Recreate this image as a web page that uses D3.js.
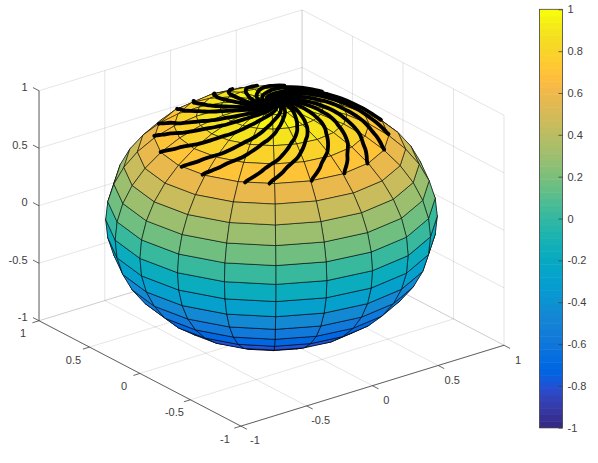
<!DOCTYPE html>
<html>
<head>
<meta charset="utf-8">
<script src="https://cdn.jsdelivr.net/npm/d3@7"></script>
<style>
html,body{margin:0;padding:0;background:#fff;}
svg{display:block;}
text{font-family:"Liberation Sans",Arial,sans-serif;font-size:11px;fill:#404040;}
</style>
</head>
<body>
<script>
// sphere mesh, degrees
var sphereLat = [-90,-81,-72,-63,-54,-45,-36,-27,-18,-9,0,9,18,27,36,45,54,63,72,81,90];
var sphereLon = [-180,-162,-144,-126,-108,-90,-72,-54,-36,-18,0,18,36,54,72,90,108,126,144,162,180];

// where each spiral ends on the sphere (longitude, degrees)
var spiralEndLon = [-301,-286.5,-267.5,-253.5,-233.5,-218.5,-198.5,-177.5,-163.5,-140.5,-128.5,-107.5,-89,-72.5,-53.5,-34.5,-16.5,2.5,20.5,39.5];
// shared spiral profile: angle from the pole and twist from the end of the arm
var spiralColat = [0,1,2,3,4,5,6,8,10,12,14,16,18,20,22,24,26,28,30,32,34,36,38,40,42,44,45];
var spiralTwist = [135,125,113,104,96,89,83,72,63,56,51,47,43,40,36.5,33,29,26,23,20,17,13,9.5,7,4,1,0];

var axisTicks = [-1,-0.5,0,0.5,1];
var colorbarTicks = [-1,-0.8,-0.6,-0.4,-0.2,0,0.2,0.4,0.6,0.8,1];

var parulaRgb = [
[.2081,.1663,.5292],[.2116,.1898,.5777],[.2123,.2138,.6270],[.2081,.2386,.6771],[.1959,.2645,.7279],[.1707,.2919,.7792],[.1253,.3242,.8303],[.0591,.3598,.8683],
[.0117,.3875,.8820],[.0060,.4086,.8828],[.0165,.4266,.8786],[.0329,.4430,.8720],[.0498,.4586,.8641],[.0629,.4737,.8554],[.0723,.4887,.8467],[.0779,.5040,.8384],
[.0793,.5200,.8312],[.0749,.5375,.8263],[.0641,.5570,.8240],[.0488,.5772,.8228],[.0343,.5966,.8199],[.0265,.6137,.8135],[.0239,.6287,.8038],[.0231,.6418,.7913],
[.0228,.6535,.7768],[.0267,.6642,.7607],[.0384,.6743,.7436],[.0590,.6838,.7254],[.0843,.6928,.7062],[.1133,.7015,.6859],[.1453,.7098,.6646],[.1801,.7177,.6424],
[.2178,.7250,.6193],[.2586,.7317,.5954],[.3022,.7376,.5712],[.3482,.7424,.5473],[.3953,.7459,.5244],[.4420,.7481,.5033],[.4871,.7491,.4840],[.5300,.7491,.4661],
[.5709,.7485,.4494],[.6099,.7473,.4337],[.6473,.7456,.4188],[.6834,.7435,.4044],[.7184,.7411,.3905],[.7525,.7384,.3768],[.7858,.7356,.3633],[.8185,.7327,.3498],
[.8507,.7299,.3360],[.8824,.7274,.3217],[.9139,.7258,.3063],[.9450,.7261,.2886],[.9739,.7314,.2666],[.9938,.7455,.2403],[.9990,.7653,.2164],[.9955,.7861,.1967],
[.9880,.8066,.1794],[.9789,.8271,.1633],[.9697,.8481,.1475],[.9626,.8705,.1309],[.9589,.8949,.1132],[.9598,.9218,.0948],[.9661,.9514,.0755],[.9763,.9831,.0538]
];
var parula = parulaRgb.map(function(c){return d3.rgb(c[0]*255,c[1]*255,c[2]*255).formatHex();});

var width = 598;
var height = 463;
var rad = Math.PI/180;

// view(-37.5,30)
var az = 37.5*rad, el = 30*rad;
var camU = d3.scaleLinear().domain([-1,1]).range([105.7,437.3]);
var camV = d3.scaleLinear().domain([-1,1]).range([350.8,85.2]);
var color = d3.scaleQuantize().domain([-1,1]).range(parula);

function view(p){
    var u = p[0]*Math.cos(az) - p[1]*Math.sin(az);
    var f = p[0]*Math.sin(az) + p[1]*Math.cos(az);
    var v = f*Math.sin(el) + p[2]*Math.cos(el);
    var w = -f*Math.cos(el) + p[2]*Math.sin(el);
    return {x:camU(u), y:camV(v), w:w};
}
function onSphere(lat,lon){
    return [Math.cos(lat*rad)*Math.cos(lon*rad), Math.cos(lat*rad)*Math.sin(lon*rad), Math.sin(lat*rad)];
}
function seg(a,b){
    var p = view(a), q = view(b);
    return "M"+p.x+","+p.y+"L"+q.x+","+q.y;
}

var svg = d3.select("body").append("svg").attr("width",width).attr("height",height);

// back walls and floor
var grid = [];
axisTicks.forEach(function(t){
    grid.push(seg([t,-1,-1],[t,1,-1]));
    grid.push(seg([-1,t,-1],[1,t,-1]));
    grid.push(seg([t,1,-1],[t,1,1]));
    grid.push(seg([1,t,-1],[1,t,1]));
    grid.push(seg([-1,1,t],[1,1,t]));
    grid.push(seg([1,-1,t],[1,1,t]));
});
svg.append("g").selectAll("path").data(grid).enter().append("path")
    .attr("d",function(d){return d})
    .attr("fill","none").attr("stroke","#262626").attr("stroke-opacity",0.15).attr("stroke-width",0.8);

// rulers
var rulers = [seg([-1,1,-1],[-1,1,1]), seg([-1,1,-1],[-1,-1,-1]), seg([-1,-1,-1],[1,-1,-1])];
axisTicks.forEach(function(t){
    rulers.push(seg([-1,1,t],[-1,1.06,t]));
    rulers.push(seg([t,-1,-1],[t,-1.06,-1]));
    rulers.push(seg([-1,t,-1],[-1.05,t,-1]));
});
svg.append("g").selectAll("path").data(rulers).enter().append("path")
    .attr("d",function(d){return d})
    .attr("fill","none").attr("stroke","#404040").attr("stroke-width",0.8);

// tick labels
var labels = svg.append("g");
axisTicks.forEach(function(t){
    var pz = view([-1,1,t]), px = view([t,-1,-1]), py = view([-1,t,-1]);
    labels.append("text").attr("x",pz.x-11.5).attr("y",pz.y-3.5).attr("dy","0.36em").attr("text-anchor","end").text(t);
    labels.append("text").attr("x",px.x+14).attr("y",px.y+14.3).attr("dy","0.36em").attr("text-anchor","middle").text(t);
    labels.append("text").attr("x",py.x-16).attr("y",py.y+12.5).attr("dy","0.36em").attr("text-anchor","middle").text(t);
});

// sphere faces, far ones first
var faces = [];
d3.range(sphereLat.length-1).forEach(function(i){
    d3.range(sphereLon.length-1).forEach(function(j){
        var pts = [
            view(onSphere(sphereLat[i],sphereLon[j])),
            view(onSphere(sphereLat[i],sphereLon[j+1])),
            view(onSphere(sphereLat[i+1],sphereLon[j+1])),
            view(onSphere(sphereLat[i+1],sphereLon[j]))
        ];
        faces.push({pts:pts, z:Math.sin(sphereLat[i]*rad), w:d3.mean(pts,function(p){return p.w})});
    });
});
faces.sort(function(a,b){return a.w-b.w});

svg.append("g").selectAll("path").data(faces).enter().append("path")
    .attr("d",function(d){return "M"+d.pts.map(function(p){return p.x+","+p.y}).join("L")+"Z"})
    .attr("fill",function(d){return color(d.z)})
    .attr("stroke","#000").attr("stroke-width",0.55).attr("stroke-linejoin","round");

// spirals
var line = d3.line()
    .defined(function(d){return d.w>0})
    .x(function(d){return d.x})
    .y(function(d){return d.y})
    .curve(d3.curveCatmullRom);

svg.append("g").selectAll("path").data(spiralEndLon).enter().append("path")
    .attr("d",function(lon){
        return line(spiralColat.map(function(c,i){return view(onSphere(90-c,lon+spiralTwist[i]))}));
    })
    .attr("fill","none").attr("stroke","#000").attr("stroke-width",3.8)
    .attr("stroke-linecap","round").attr("stroke-linejoin","round");

// colorbar
var cbX = 539.5, cbW = 23;
var cbY = d3.scaleLinear().domain([-1,1]).range([427.7,9.3]);
var cb = svg.append("g");
cb.selectAll("rect").data(parula).enter().append("rect")
    .attr("x",cbX).attr("width",cbW)
    .attr("y",function(d,i){return cbY(-1+(i+1)/32)})
    .attr("height",function(){return cbY(-1)-cbY(-1+1/32)+0.5})
    .attr("fill",function(d){return d});
cb.append("rect").attr("x",cbX).attr("y",cbY(1)).attr("width",cbW).attr("height",cbY(-1)-cbY(1))
    .attr("fill","none").attr("stroke","#404040").attr("stroke-width",0.8);
var cbAxis = cb.append("g").attr("transform","translate("+(cbX+cbW)+",0)")
    .call(d3.axisRight(cbY).tickValues(colorbarTicks).tickSize(-4).tickPadding(5).tickFormat(String));
cbAxis.select(".domain").remove();
cbAxis.selectAll("line").attr("stroke","#404040").attr("stroke-width",0.8);
cbAxis.selectAll("text").style("font-size","11px");
</script>
</body>
</html>
